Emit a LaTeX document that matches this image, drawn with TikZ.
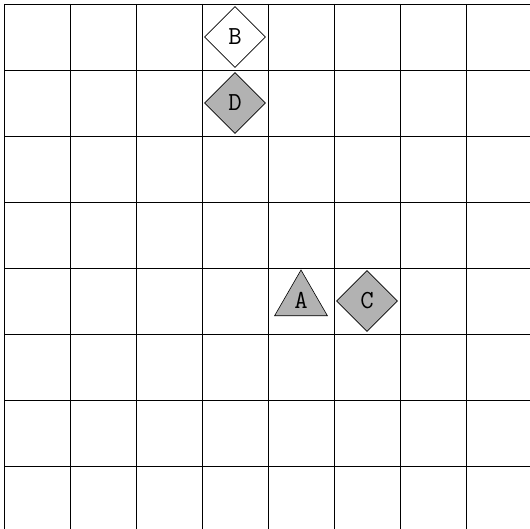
\documentclass[tikz,border=0pt]{standalone}
\usetikzlibrary{shapes.geometric}
\begin{document}
\begin{tikzpicture}[x=1pt,y=-1pt,
  gridline/.style={line width=0.9pt,black},
  piece/.style={draw=black,line width=0.6pt,inner sep=0pt,font=\ttfamily\fontsize{26}{26}\selectfont},
  diam/.style={piece,diamond,minimum width=61pt,minimum height=61pt},
  tri/.style={piece,regular polygon,regular polygon sides=3,minimum size=61pt}]
\useasboundingbox (0,0) rectangle (530,529);
\foreach \k in {0,...,7}{
  \draw[gridline] ({4+66*\k},4) -- ({4+66*\k},529);
  \draw[gridline] (4,{4+66*\k}) -- (530,{4+66*\k});
}
\node[diam,fill=white] (B) at (235,37) {B};
\node[diam,fill=gray!60] (D) at (235,103) {D};
\node[tri,fill=gray!60] (A) at (301,300.5) {A};
\node[diam,fill=gray!60] (C) at (367,301) {C};
\end{tikzpicture}
\end{document}
